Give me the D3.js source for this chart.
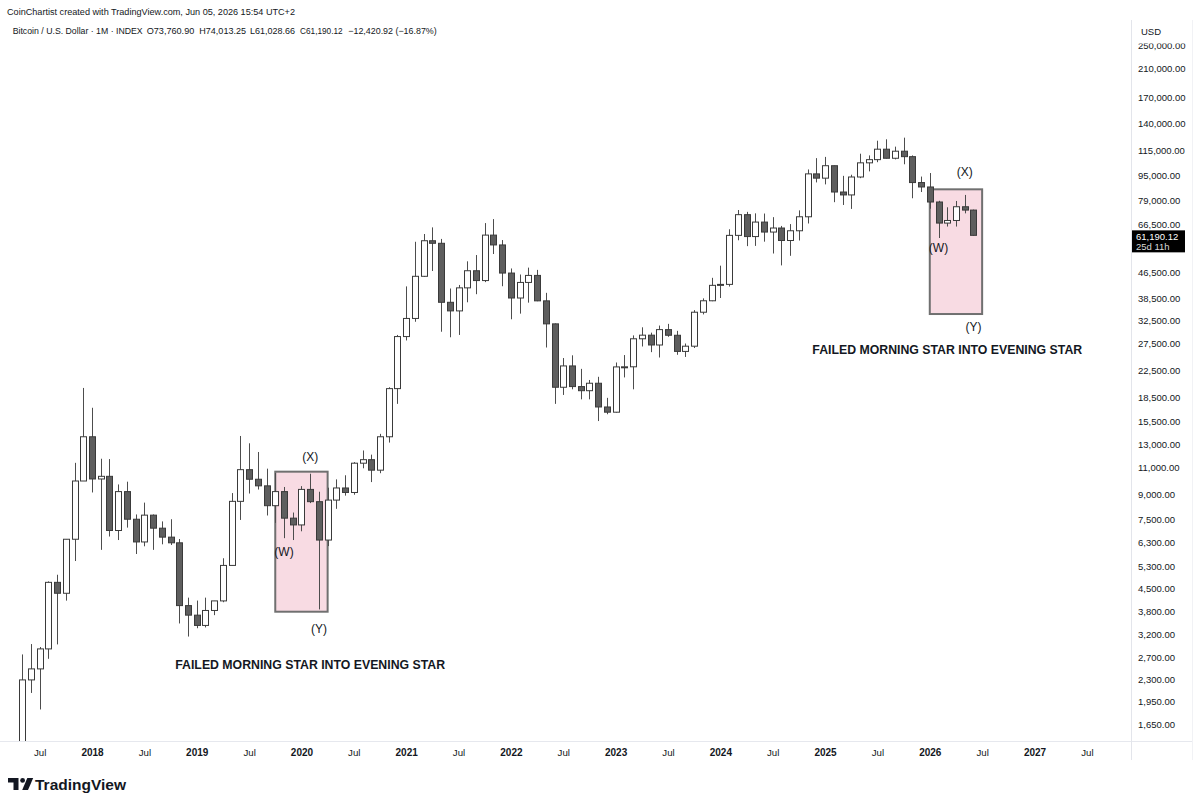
<!DOCTYPE html>
<html><head><meta charset="utf-8">
<script src="https://cdn.jsdelivr.net/npm/d3@7"></script>
<style>
html,body{margin:0;padding:0;background:#fff;}
svg{display:block;font-family:"Liberation Sans",Arial,Helvetica,sans-serif;}
</style>
</head><body>
<svg id="c" width="1200" height="804"></svg>
<script>
// ---------- DATA ----------
const months = [
  "2017-05","2017-06","2017-07","2017-08","2017-09","2017-10","2017-11","2017-12",
  "2018-01","2018-02","2018-03","2018-04","2018-05","2018-06","2018-07","2018-08","2018-09","2018-10","2018-11","2018-12",
  "2019-01","2019-02","2019-03","2019-04","2019-05","2019-06","2019-07","2019-08","2019-09","2019-10","2019-11","2019-12",
  "2020-01","2020-02","2020-03","2020-04","2020-05","2020-06","2020-07","2020-08","2020-09","2020-10","2020-11","2020-12",
  "2021-01","2021-02","2021-03","2021-04","2021-05","2021-06","2021-07","2021-08","2021-09","2021-10","2021-11","2021-12",
  "2022-01","2022-02","2022-03","2022-04","2022-05","2022-06","2022-07","2022-08","2022-09","2022-10","2022-11","2022-12",
  "2023-01","2023-02","2023-03","2023-04","2023-05","2023-06","2023-07","2023-08","2023-09","2023-10","2023-11","2023-12",
  "2024-01","2024-02","2024-03","2024-04","2024-05","2024-06","2024-07","2024-08","2024-09","2024-10","2024-11","2024-12",
  "2025-01","2025-02","2025-03","2025-04","2025-05","2025-06","2025-07","2025-08","2025-09","2025-10","2025-11","2025-12",
  "2026-01","2026-02","2026-03","2026-04","2026-05","2026-06"
];
const openVals = [
  1348,2286,2480,2875,4703,4338,6468,9950,
  13800,10100,10300,6900,9200,7500,6340,7730,7020,6570,6300,3960,
  3690,3420,3820,4100,5330,8560,10820,10080,9600,8290,9200,7560,
  7190,9350,8540,6430,8640,9450,9140,11350,11650,10780,13800,19700,
  28950,33100,45200,58800,57700,37300,35000,41500,47100,43800,61300,57000,
  46300,38500,43200,45500,37700,31800,19900,23300,20000,19400,20500,17200,
  16550,23130,23150,28480,29250,27200,30480,29230,25940,26960,34660,37720,
  42280,42580,61180,71300,60640,67500,62700,64600,58900,63300,70200,96400,
  93400,102400,84300,82500,94200,104600,107100,115700,108200,114000,109500,90400,
  87500,78300,67000,68300,75600,73760.90
];
const highVals = [
  2760,2980,2916,4736,4975,6470,11380,19800,
  17100,11730,11700,9700,9900,7770,8480,7770,7380,7500,6480,4200,
  4110,4200,4100,5620,9100,13880,13150,12330,10900,10550,9520,7880,
  9580,10500,9190,9470,10070,10380,11440,12470,12090,14100,19900,29300,
  41950,58350,61800,64900,59600,41300,42400,50500,52900,67000,69000,59100,
  47900,45800,48200,47400,40000,31900,24700,25200,22800,21000,21500,18400,
  23900,25250,29200,31000,29800,31400,31800,30200,27500,35200,38400,44700,
  48900,64000,73800,72800,72000,71900,70000,65600,66500,73600,99600,108300,
  109300,102500,95000,95800,111900,110500,123200,124500,117900,126000,110500,94500,
  97000,79000,75300,78900,82500,74013.25
];
const lowVals = [
  1348,2076,1837,2672,2972,4108,5506,10400,
  9140,5980,6600,6430,7050,5800,6140,5980,6230,6200,3470,3150,
  3350,3370,3690,4060,5330,7460,9070,9340,7710,7300,6520,6430,
  6860,8450,3850,6150,8100,8930,8990,10930,9870,10540,13220,17600,
  28130,32300,45000,47000,30000,28800,29300,37300,39600,43300,53300,42000,
  32900,34300,37200,37600,26700,17600,18800,19600,18200,18200,15500,16300,
  16500,21400,19600,26900,25800,24800,28900,25300,24900,26600,34100,37600,
  38500,41900,59000,56500,56600,58400,53500,49000,52600,58900,66800,90500,
  89200,78200,76600,74400,93400,98200,105100,108000,107300,103500,80500,84300,
  74500,60000,65300,65300,72000,61028.66
];
const closeVals = [
  2286,2480,2875,4703,4338,6468,9950,13800,
  10100,10300,6900,9200,7500,6340,7730,7020,6570,6300,3960,3690,
  3420,3820,4100,5330,8560,10820,10080,9600,8290,9200,7560,7190,
  9350,8540,6430,8640,9450,9140,11350,11650,10780,13800,19700,28950,
  33100,45200,58800,57700,37300,35000,41500,47100,43800,61300,57000,46300,
  38500,43200,45500,37700,31800,19900,23300,20000,19400,20500,17200,16550,
  23130,23150,28480,29250,27200,30480,29230,25940,26960,34660,37720,42280,
  42580,61180,71300,60640,67500,62700,64600,58900,63300,70200,96400,93400,
  102400,84300,82500,94200,104600,107100,115700,108200,114000,109500,90400,87500,
  78300,67000,68300,75600,73760.90,61190.12
];
const priceTicks = [250000,210000,170000,140000,115000,95000,79000,66500,46500,38500,32500,27500,22500,18500,15500,13000,11000,9000,7500,6300,5300,4500,3800,3200,2700,2300,1950,1650];
const timeTicks = ["2017-07","2018-01","2018-07","2019-01","2019-07","2020-01","2020-07","2021-01","2021-07","2022-01","2022-07","2023-01","2023-07","2024-01","2024-07","2025-01","2025-07","2026-01","2026-07","2027-01","2027-07"];

// highlighted pattern boxes: [startMonth, endMonth, topPrice, bottomPrice]
const boxStart = ["2019-10","2026-01"];
const boxEnd   = ["2020-04","2026-07"];
const boxTop   = [10660, 86000];
const boxBottom= [3785, 34200];

// annotation labels: text, month, price
const noteText  = ["(X)","(W)","(Y)","FAILED MORNING STAR INTO EVENING STAR","(X)","(W)","(Y)","FAILED MORNING STAR INTO EVENING STAR"];
const noteMonth = ["2020-02","2019-11","2020-03","2020-02","2026-05","2026-02","2026-06","2026-03"];
const notePrice = [11880,5886,3331,2552,97730,55720,31070,26210];
const noteBold  = [false,false,false,true,false,false,false,true];

const lastPrice = 61190.12;
const lastPriceText = "61,190.12";
const countdownText = "25d 11h";

const headerText = "CoinChartist created with TradingView.com, Jun 05, 2026 15:54 UTC+2";
const legendParts = ["Bitcoin / U.S. Dollar · 1M · INDEX","O73,760.90","H74,013.25","L61,028.66","C61,190.12","−12,420.92 (−16.87%)"];

// ---------- SCALES ----------
const monthIdx = s => { const p = s.split("-").map(Number); return (p[0]-2018)*12 + (p[1]-1); };
const x = d3.scaleLinear().domain([0,108]).range([92,1034.5]);
const y = d3.scaleLog().domain([1650,250000]).range([724,45]);

const svg = d3.select("#c");
const ink = "#131722";
const PL = 0, PR = 1131, PT = 40, PB = 741;

const defs = svg.append("defs");
defs.append("clipPath").attr("id","plotClip").append("rect").attr("x",PL).attr("y",PT).attr("width",PR-PL).attr("height",PB-PT);
defs.append("clipPath").attr("id","axisClip").append("rect").attr("x",0).attr("y",43.5).attr("width",70).attr("height",PB-43.5);

// frame lines
svg.append("line").attr("x1",0).attr("x2",1192).attr("y1",PB+0.5).attr("y2",PB+0.5).attr("stroke","#e6e8ee");
svg.append("line").attr("x1",PR+0.5).attr("x2",PR+0.5).attr("y1",20).attr("y2",760).attr("stroke","#e3e5eb");
svg.append("line").attr("x1",1192.5).attr("x2",1192.5).attr("y1",20).attr("y2",760).attr("stroke","#f1f2f5");

const plot = svg.append("g").attr("clip-path","url(#plotClip)");

// boxes (under candles)
plot.selectAll("rect.box").data(boxStart).join("rect").attr("class","box")
  .attr("x",(d,i)=>x(monthIdx(d)))
  .attr("y",(d,i)=>y(boxTop[i]))
  .attr("width",(d,i)=>x(monthIdx(boxEnd[i]))-x(monthIdx(d)))
  .attr("height",(d,i)=>y(boxBottom[i])-y(boxTop[i]))
  .attr("fill","#f8dbe3").attr("stroke","#707070").attr("stroke-width",2);

// candles
const candles = months.map((m,i)=>({m, o:openVals[i], h:highVals[i], l:lowVals[i], c:closeVals[i]}));
const cx = d => Math.round(x(monthIdx(d.m))) + 0.5;
plot.selectAll("line.wick").data(candles).join("line").attr("class","wick")
  .attr("x1",cx).attr("x2",cx)
  .attr("y1",d=>y(d.h)).attr("y2",d=>y(d.l))
  .attr("stroke","#4d4d4d").attr("stroke-width",1);
plot.selectAll("rect.body").data(candles).join("rect").attr("class","body")
  .attr("x",d=>cx(d)-3)
  .attr("y",d=>y(Math.max(d.o,d.c)))
  .attr("width",6)
  .attr("height",d=>Math.max(1, y(Math.min(d.o,d.c))-y(Math.max(d.o,d.c))))
  .attr("fill",d=>d.c>=d.o?"#ffffff":"#5e5e5e")
  .attr("stroke","#3a3a3a").attr("stroke-width",1);

// annotations
plot.selectAll("text.note").data(noteText).join("text").attr("class","note")
  .attr("x",(d,i)=>x(monthIdx(noteMonth[i])))
  .attr("y",(d,i)=>y(notePrice[i]))
  .attr("text-anchor","middle").attr("dominant-baseline","central")
  .attr("font-size",(d,i)=>noteBold[i]?12.3:12)
  .attr("font-weight",(d,i)=>noteBold[i]?"bold":"normal")
  .attr("fill",ink).text(d=>d);

// right price axis
const yAxis = d3.axisRight(y).tickValues(priceTicks).tickFormat(d3.format(",.2f")).tickSize(0).tickPadding(7);
const ga = svg.append("g").attr("transform",`translate(${PR},0)`).attr("clip-path","url(#axisClip)").call(yAxis);
ga.select(".domain").remove();
ga.selectAll("text").attr("font-family","Liberation Sans, Arial, sans-serif").attr("font-size",9.5).attr("fill",ink);

svg.append("text").attr("x",1141).attr("y",31).attr("dominant-baseline","central")
  .attr("font-size",9.5).attr("fill",ink).text("USD");

// last price label
const lp = y(lastPrice);
svg.append("rect").attr("x",PR+1).attr("y",lp-5).attr("width",53).attr("height",22).attr("fill","#000");
svg.append("text").attr("x",1136).attr("y",lp+1).attr("dominant-baseline","central").attr("font-size",9.5).attr("fill","#fff").text(lastPriceText);
svg.append("text").attr("x",1136).attr("y",lp+11.5).attr("dominant-baseline","central").attr("font-size",9.5).attr("fill","#d8d8d8").text(countdownText);

// time axis
const xAxis = d3.axisBottom(x).tickValues(timeTicks.map(monthIdx))
  .tickFormat(i => i%12===0 ? String(2018+i/12) : "Jul").tickSize(0).tickPadding(0);
const gx = svg.append("g").attr("transform",`translate(0,${PB})`).call(xAxis);
gx.select(".domain").remove();
gx.selectAll("text").attr("y",11.5).attr("dy",0).attr("dominant-baseline","central")
  .attr("font-family","Liberation Sans, Arial, sans-serif")
  .attr("font-size",d=>d%12===0?10:9.7)
  .attr("font-weight",d=>d%12===0?"bold":"normal")
  .attr("fill",ink);

// header
svg.append("text").attr("x",7).attr("y",11.5).attr("dominant-baseline","central")
  .attr("font-size",9.2).attr("textLength",288).attr("lengthAdjust","spacingAndGlyphs")
  .attr("fill",ink).text(headerText);
const legendX = [12.7,146.7,199.3,250,300,348.3];
const legendW = [130,47.6,46.7,45,42.7,88.4];
svg.selectAll("text.leg").data(legendParts).join("text").attr("class","leg")
  .attr("x",(d,i)=>legendX[i]).attr("y",30.5).attr("dominant-baseline","central")
  .attr("font-size",9).attr("textLength",(d,i)=>legendW[i]).attr("lengthAdjust","spacingAndGlyphs")
  .attr("fill",ink).text(d=>d);

// TradingView logo
const logo = svg.append("g").attr("transform","translate(8,778)").attr("fill","#131722");
logo.append("path").attr("d","M0,0 H10.5 V12 H5.5 V4.6 H0 Z");
logo.append("circle").attr("cx",14.6).attr("cy",2.4).attr("r",2.4);
logo.append("path").attr("d","M19.3,0 H25.2 L20,12 H14.2 Z");
svg.append("text").attr("x",35).attr("y",784).attr("dominant-baseline","central")
  .attr("font-size",15.5).attr("font-weight","bold").attr("fill","#131722").text("TradingView");
</script>
</body></html>
